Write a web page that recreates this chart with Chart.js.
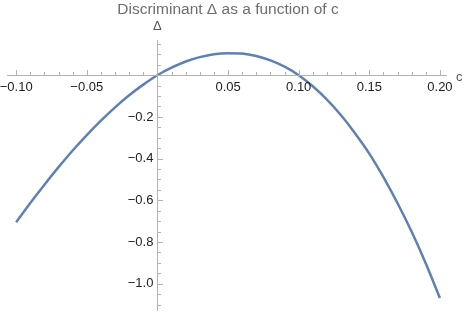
<!DOCTYPE html>
<html>
<head>
<meta charset="utf-8">
<script src="https://cdn.jsdelivr.net/npm/chart.js@4"></script>
<style>
    html, body { margin: 0; padding: 0; background: #fff; }
    #wrap { width: 464px; height: 313px; position: relative; }
</style>
</head>
<body>
<div id="wrap"><canvas id="discChart"></canvas></div>
<script>
// Values
const cValues = [-0.10, -0.09, -0.08, -0.07, -0.06, -0.05, -0.04, -0.03, -0.02, -0.01,
                 0.00, 0.01, 0.02, 0.03, 0.04, 0.05, 0.06, 0.07, 0.08, 0.09,
                 0.10, 0.11, 0.12, 0.13, 0.14, 0.15, 0.16, 0.17, 0.18, 0.19, 0.20];
const deltaValues = [-0.705, -0.613, -0.525, -0.441, -0.361, -0.287, -0.218, -0.154, -0.096, -0.045,
                     0.000, 0.036, 0.066, 0.087, 0.101, 0.106, 0.104, 0.092, 0.071, 0.041,
                     0.000, -0.053, -0.117, -0.192, -0.279, -0.376, -0.489, -0.614, -0.751, -0.903, -1.069];

const xMajorTicks = [-0.10, -0.05, 0.05, 0.10, 0.15, 0.20];
const xTickLabels = ['\u22120.10', '\u22120.05', '0.05', '0.10', '0.15', '0.20'];
const yMajorTicks = [-0.2, -0.4, -0.6, -0.8, -1.0];
const yTickLabels = ['\u22120.2', '\u22120.4', '\u22120.6', '\u22120.8', '\u22121.0'];

const titleText = 'Discriminant \u0394 as a function of c';

// Mathematica-style axes crossing at the origin
const axesPlugin = {
    id: 'originAxes',
    afterDraw(chart) {
        const ctx = chart.ctx;
        const xs = chart.scales.x;
        const ys = chart.scales.y;
        const ox = xs.getPixelForValue(0);
        const oy = ys.getPixelForValue(0);
        const area = chart.chartArea;

        ctx.save();
        ctx.strokeStyle = '#b3b3b3';
        ctx.lineWidth = 1;

        // axis lines
        ctx.beginPath();
        ctx.moveTo(area.left, Math.round(oy) + 0.5);
        ctx.lineTo(area.right, Math.round(oy) + 0.5);
        ctx.moveTo(Math.round(ox) + 0.5, area.top);
        ctx.lineTo(Math.round(ox) + 0.5, area.bottom);
        ctx.stroke();

        // x ticks: minor every 0.01, major every 0.05 (drawn upward)
        ctx.beginPath();
        for (let i = -10; i <= 20; i++) {
            if (i === 0) continue;
            const px = Math.round(xs.getPixelForValue(i / 100)) + 0.5;
            const len = (i % 5 === 0) ? 5 : 3;
            ctx.moveTo(px, Math.round(oy));
            ctx.lineTo(px, Math.round(oy) - len);
        }
        // y ticks: minor every 0.05, major every 0.2 (drawn rightward)
        for (let j = -22; j <= 3; j++) {
            if (j === 0) continue;
            const py = Math.round(ys.getPixelForValue(j * 0.05)) + 0.5;
            const len = (j % 4 === 0) ? 5 : 3;
            ctx.moveTo(Math.round(ox) + 1, py);
            ctx.lineTo(Math.round(ox) + 1 + len, py);
        }
        ctx.stroke();

        // tick labels
        ctx.fillStyle = '#222';
        ctx.font = '13px "Liberation Sans", Arial, sans-serif';
        ctx.textAlign = 'center';
        ctx.textBaseline = 'middle';
        xMajorTicks.forEach((v, i) => {
            ctx.fillText(xTickLabels[i], xs.getPixelForValue(v), oy + 12);
        });
        ctx.textAlign = 'right';
        yMajorTicks.forEach((v, i) => {
            ctx.fillText(yTickLabels[i], ox - 4, ys.getPixelForValue(v));
        });

        // axis labels
        ctx.fillStyle = '#555';
        ctx.font = '13px "Liberation Sans", Arial, sans-serif';
        ctx.textAlign = 'left';
        ctx.fillText('c', area.right + 9, oy + 2);
        ctx.textAlign = 'center';
        ctx.fillText('\u0394', ox, area.top - 14);

        // title
        ctx.fillStyle = '#6e6e6e';
        ctx.font = '15.5px "Liberation Sans", Arial, sans-serif';
        ctx.fillText(titleText, 228, 10);
        ctx.restore();
    }
};

const chartCtx = document.getElementById('discChart').getContext('2d');
new Chart(chartCtx, {
    type: 'line',
    data: {
        datasets: [{
            data: cValues.map((c, i) => ({ x: c, y: deltaValues[i] })),
            borderColor: '#5e81b5',
            borderWidth: 2.5,
            pointRadius: 0,
            tension: 0.4,
            cubicInterpolationMode: 'monotone',
            fill: false
        }]
    },
    options: {
        responsive: true,
        maintainAspectRatio: false,
        animation: false,
        layout: {
            padding: { left: 7, right: 17, top: 40, bottom: 2 }
        },
        plugins: {
            legend: { display: false },
            tooltip: { enabled: false }
        },
        scales: {
            x: { type: 'linear', display: false, min: -0.1065, max: 0.205 },
            y: { type: 'linear', display: false, min: -1.131, max: 0.169 }
        }
    },
    plugins: [axesPlugin]
});
</script>
</body>
</html>
